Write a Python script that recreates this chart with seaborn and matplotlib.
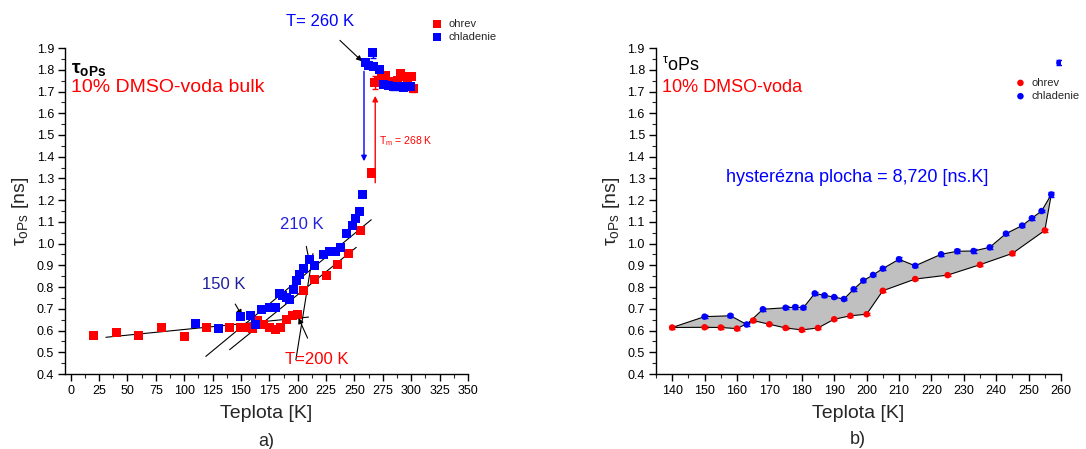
import numpy as np
import pandas as pd
import matplotlib
matplotlib.use("Agg")
import matplotlib.pyplot as plt
from matplotlib.ticker import MultipleLocator
import seaborn as sns

# ---------------- data ----------------
ohrev_T = [20, 40, 60, 80, 100, 120, 140, 150, 155, 160, 165, 170, 175, 180, 185,
           190, 195, 200, 205, 215, 225, 235, 245, 255, 265, 268, 271, 274, 277,
           281, 285, 288, 291, 294, 297, 300, 302]
ohrev_v = [0.575, 0.590, 0.577, 0.615, 0.573, 0.613, 0.614, 0.615, 0.614, 0.609,
           0.646, 0.629, 0.612, 0.603, 0.612, 0.652, 0.668, 0.675, 0.783, 0.837,
           0.855, 0.903, 0.955, 1.061, 1.325, 1.740, 1.752, 1.765, 1.773, 1.745,
           1.735, 1.750, 1.783, 1.770, 1.765, 1.770, 1.712]
ohrev_err = [0.005, 0.005, 0.005, 0.005, 0.005, 0.005, 0.005, 0.005, 0.005, 0.005,
             0.005, 0.005, 0.005, 0.005, 0.005, 0.005, 0.005, 0.005, 0.006, 0.006,
             0.006, 0.006, 0.006, 0.008, 0.008, 0.030, 0.012, 0.012, 0.012, 0.012,
             0.012, 0.012, 0.015, 0.012, 0.012, 0.012, 0.012]

chlad_T = [110, 130, 150, 158, 163, 168, 175, 178, 180.5, 184, 187, 190, 193, 196,
           199, 202, 205, 210, 215, 223, 228, 233, 238, 243, 248, 251, 254, 257,
           259.5, 262, 266, 267, 272, 276, 280, 284, 289, 293, 297, 299]
chlad_v = [0.632, 0.608, 0.664, 0.668, 0.628, 0.698, 0.705, 0.708, 0.705, 0.771,
           0.762, 0.754, 0.745, 0.790, 0.830, 0.856, 0.885, 0.928, 0.898, 0.951,
           0.965, 0.966, 0.983, 1.046, 1.083, 1.117, 1.150, 1.226, 1.832, 1.820,
           1.881, 1.816, 1.800, 1.732, 1.727, 1.721, 1.721, 1.717, 1.721, 1.725]
chlad_err = [0.005, 0.005, 0.006, 0.006, 0.008, 0.008, 0.008, 0.008, 0.008, 0.006,
             0.006, 0.006, 0.006, 0.006, 0.006, 0.006, 0.006, 0.010, 0.006, 0.006,
             0.010, 0.008, 0.006, 0.006, 0.006, 0.006, 0.006, 0.012, 0.012, 0.012,
             0.025, 0.012, 0.012, 0.012, 0.012, 0.012, 0.012, 0.012, 0.012, 0.012]

# fit lines on panel a): (T1, v1, T2, v2)
fit_lines = [(31, 0.569, 209.5, 0.662),
             (119, 0.481, 264.8, 1.110),
             (140, 0.512, 251.6, 0.983),
             (198.4, 0.466, 213.4, 0.954)]

x_ticks_a = list(range(0, 351, 25))
x_ticks_b = list(range(140, 261, 10))
y_ticks = [round(0.4 + 0.1 * i, 1) for i in range(16)]

hyst_range = (140, 257)

# ---------------- style ----------------
sns.set_style("ticks")
plt.rcParams['font.family'] = ['Liberation Sans', 'DejaVu Sans']
plt.rcParams['mathtext.fontset'] = 'custom'
plt.rcParams['mathtext.rm'] = 'Liberation Sans'
plt.rcParams['mathtext.it'] = 'Liberation Sans'
plt.rcParams['mathtext.bf'] = 'Liberation Sans:bold'
plt.rcParams['mathtext.sf'] = 'Liberation Sans'

RED = '#ff0000'
BLUE = '#0000ff'

df_o = pd.DataFrame({'T': ohrev_T, 'v': ohrev_v, 'e': ohrev_err})
df_c = pd.DataFrame({'T': chlad_T, 'v': chlad_v, 'e': chlad_err})

fig = plt.figure(figsize=(10.86, 4.49), dpi=100)
ax1 = fig.add_axes([0.0599, 0.167, 0.371, 0.726])
ax2 = fig.add_axes([0.604, 0.167, 0.373, 0.726])


def style_axis(ax, xmaj, xmin):
    for s in ['top', 'right']:
        ax.spines[s].set_visible(False)
    for s in ['left', 'bottom']:
        ax.spines[s].set_linewidth(1.0)
        ax.spines[s].set_color('black')
    ax.yaxis.set_major_locator(MultipleLocator(0.1))
    ax.yaxis.set_minor_locator(MultipleLocator(0.05))
    ax.xaxis.set_major_locator(MultipleLocator(xmaj))
    ax.xaxis.set_minor_locator(MultipleLocator(xmin))
    ax.tick_params(which='major', direction='out', length=5, width=1,
                   labelsize=9, colors='black', pad=3)
    ax.tick_params(which='minor', direction='out', length=3, width=0.8)
    ax.set_ylim(0.4, 1.9)
    ax.set_yticks(y_ticks)
    ax.set_yticklabels([f"{t:.1f}" for t in y_ticks])


# ---------------- panel a ----------------
for (t1, v1, t2, v2) in fit_lines:
    ax1.plot([t1, t2], [v1, v2], color='black', lw=0.8, zorder=2)

ax1.errorbar(df_o['T'], df_o['v'], yerr=df_o['e'], fmt='none', ecolor=RED,
             elinewidth=1, capsize=2.5, zorder=2.5)
ax1.errorbar(df_c['T'], df_c['v'], yerr=df_c['e'], fmt='none', ecolor=BLUE,
             elinewidth=1, capsize=2.5, zorder=2.5)
sns.scatterplot(data=df_o, x='T', y='v', marker='s', color=RED, s=42,
                edgecolor='none', ax=ax1, label='ohrev', zorder=3)
sns.scatterplot(data=df_c, x='T', y='v', marker='s', color=BLUE, s=42,
                edgecolor='none', ax=ax1, label='chladenie', zorder=3.5)

style_axis(ax1, 25, 12.5)
ax1.set_xlim(-5, 350)
ax1.set_xticks(x_ticks_a)
ax1.set_xticklabels([str(t) for t in x_ticks_a])
ax1.set_xlabel('Teplota [K]', fontsize=14, labelpad=6)
ax1.set_ylabel(r'$\tau_{\mathrm{oPs}}$ [ns]', fontsize=14, labelpad=4)

leg1 = ax1.legend(loc='upper left', bbox_to_anchor=(423 / 1086, 1 - 11 / 449),
                  bbox_transform=fig.transFigure, frameon=False, fontsize=8,
                  handletextpad=0.4, borderpad=0.2, labelspacing=0.3,
                  handlelength=1.2, markerscale=0.9)

ax1.text(0.0, 1.80, r'$\mathbf{\tau}_{\mathbf{oPs}}$', fontsize=14,
         color='black', ha='left', va='center')
ax1.text(0.0, 1.72, '10% DMSO-voda bulk', fontsize=14, color=RED,
         ha='left', va='center')

# annotations
ax1.annotate('T= 260 K', xy=(256.7, 1.839), xytext=(220, 2.02),
             textcoords='data', fontsize=12, color=BLUE, ha='center',
             va='center', annotation_clip=False,
             arrowprops=dict(arrowstyle='-|>', color='black', lw=0.8,
                             shrinkA=8, shrinkB=0, mutation_scale=8))
ax1.annotate('', xy=(258.4, 1.379), xytext=(258.4, 1.793),
             arrowprops=dict(arrowstyle='-|>', color=BLUE, lw=1.0,
                             shrinkA=0, shrinkB=0, mutation_scale=8))
ax1.annotate('', xy=(268.3, 1.68), xytext=(268.3, 1.28),
             arrowprops=dict(arrowstyle='-|>', color=RED, lw=1.0,
                             shrinkA=0, shrinkB=0, mutation_scale=8))
ax1.text(272, 1.47, r'T$_{\mathrm{m}}$ = 268 K', fontsize=7.5, color=RED,
         ha='left', va='center')

ax1.annotate('150 K', xy=(150.8, 0.67), xytext=(135, 0.81),
             fontsize=12, color='#1f1f9e', ha='center', va='center',
             arrowprops=dict(arrowstyle='-|>', color='black', lw=0.8,
                             shrinkA=7, shrinkB=0, mutation_scale=8))
ax1.annotate('210 K', xy=(210.4, 0.914), xytext=(203.7, 1.087),
             fontsize=12, color='#2222dd', ha='center', va='center',
             arrowprops=dict(arrowstyle='-|>', color='black', lw=0.8,
                             shrinkA=8, shrinkB=0, mutation_scale=8))
ax1.annotate('T=200 K', xy=(200.7, 0.658), xytext=(217, 0.469),
             fontsize=12, color=RED, ha='center', va='center',
             arrowprops=dict(arrowstyle='-|>', color='black', lw=0.8,
                             shrinkA=8, shrinkB=0, mutation_scale=8))

fig.text(266.7 / 1086, 1 - 441 / 449, 'a)', fontsize=13, ha='center',
         va='center')

# ---------------- panel b ----------------
lo, hi = hyst_range
red_sub = df_o[(df_o['T'] >= lo) & (df_o['T'] <= hi)]
blue_sub = df_c[(df_c['T'] >= lo) & (df_c['T'] <= hi)]
poly_T = ([red_sub['T'].iloc[0]] + list(blue_sub['T']) +
          list(red_sub['T'][::-1]))
poly_v = ([red_sub['v'].iloc[0]] + list(blue_sub['v']) +
          list(red_sub['v'][::-1]))
ax2.fill(poly_T, poly_v, facecolor='#c0c0c0', edgecolor='black', lw=0.8,
         zorder=1)

blue_b = df_c[(df_c['T'] >= lo) & (df_c['T'] <= 261)]
ax2.errorbar(red_sub['T'], red_sub['v'], yerr=red_sub['e'], fmt='none',
             ecolor=RED, elinewidth=1, capsize=2.0, zorder=2.5)
ax2.errorbar(blue_b['T'], blue_b['v'], yerr=blue_b['e'], fmt='none',
             ecolor=BLUE, elinewidth=1, capsize=2.0, zorder=2.5)
sns.scatterplot(data=red_sub, x='T', y='v', marker='o', color=RED, s=22,
                edgecolor='none', ax=ax2, label='ohrev', zorder=3)
sns.scatterplot(data=blue_b, x='T', y='v', marker='o', color=BLUE, s=22,
                edgecolor='none', ax=ax2, label='chladenie', zorder=3.5)

style_axis(ax2, 10, 5)
ax2.set_xlim(135, 260)
ax2.set_xticks(x_ticks_b)
ax2.set_xticklabels([str(t) for t in x_ticks_b])
ax2.set_xlabel('Teplota [K]', fontsize=14, labelpad=6)
ax2.set_ylabel(r'$\tau_{\mathrm{oPs}}$ [ns]', fontsize=14, labelpad=4)

leg2 = ax2.legend(loc='upper left', bbox_to_anchor=(1006 / 1086, 1 - 70 / 449),
                  bbox_transform=fig.transFigure, frameon=False, fontsize=8,
                  handletextpad=0.4, borderpad=0.2, labelspacing=0.3,
                  handlelength=1.2)

ax2.text(137, 1.82, r'$^{\tau}$oPs', fontsize=13, color='black',
         ha='left', va='center')
ax2.text(137, 1.72, '10% DMSO-voda', fontsize=13, color=RED,
         ha='left', va='center')
ax2.text(197, 1.305, 'hysterézna plocha = 8,720 [ns.K]', fontsize=13,
         color=BLUE, ha='center', va='center')

fig.text(858 / 1086, 1 - 440 / 449, 'b)', fontsize=13, ha='center',
         va='center')

fig.savefig('out.png', dpi=100)
